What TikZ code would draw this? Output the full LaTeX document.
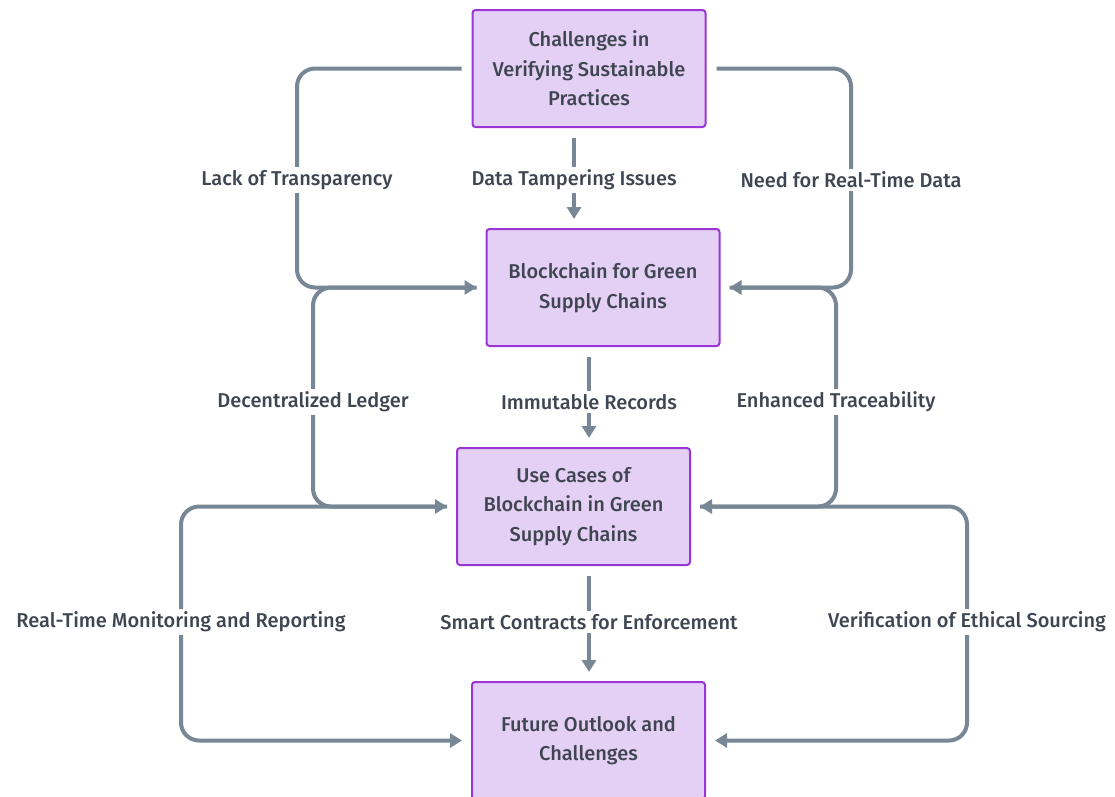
\documentclass[tikz,border=0pt]{standalone}
\usepackage{fontspec}
\setmainfont{Fira Sans Medium}
\usetikzlibrary{arrows.meta}
\definecolor{boxfill}{HTML}{E4D0F4}
\definecolor{boxline}{HTML}{9A35D6}
\definecolor{txt}{HTML}{3F4652}
\definecolor{edgec}{HTML}{788796}
\tikzset{
  box/.style={draw=boxline, line width=2pt, fill=boxfill, rounded corners=3pt,
    minimum width=233pt, minimum height=117pt, align=center, text=txt,
    font=\fontsize{20}{29.5}\selectfont, inner sep=0pt},
  edge/.style={draw=edgec, line width=4pt, rounded corners=18pt,
    -{Triangle[length=12pt,width=14pt]}},
  lbl/.style={fill=white, text=txt, font=\fontsize{20}{22}\selectfont, inner sep=3pt}
}
\begin{document}
\begin{tikzpicture}[x=1pt,y=-1pt]
\useasboundingbox[fill=white] (0,0) rectangle (1115,796);
\node[box] (A) at (589,68.5) {Challenges in\\Verifying Sustainable\\Practices};
\node[box] (B) at (603,287.5) {Blockchain for Green\\Supply Chains};
\node[box] (C) at (573.5,506.5) {Use Cases of\\Blockchain in Green\\Supply Chains};
\node[box] (D) at (588.5,740.5) {Future Outlook and\\Challenges};
\coordinate (a1) at (297,180);
\coordinate (a3) at (851,180);
\coordinate (b1) at (313,402);
\coordinate (b3) at (836,402);
\coordinate (c1) at (181,622);
\coordinate (c3) at (967,622);
% A -> B
\draw[edge, shorten <=10pt, shorten >=9pt] (A.west) -| (a1) |- (B.west);
\node[lbl] at (a1) {Lack of Transparency};
\draw[edge, shorten <=10pt, shorten >=9pt] (A.south -| 574,0) -- (B.north -| 574,0);
\node[lbl] at (574,180) {Data Tampering Issues};
\draw[edge, shorten <=10pt, shorten >=9pt] (A.east) -| (a3) |- (B.east);
\node[lbl] at (a3) {Need for Real-Time Data};
% B -> C
\draw[edge, shorten <=9pt, shorten >=9pt] (B.west) -| (b1) |- (C.west);
\node[lbl] at (b1) {Decentralized Ledger};
\draw[edge, shorten <=10pt, shorten >=9pt] (B.south -| 589,0) -- (C.north -| 589,0);
\node[lbl] at (589,402) {Immutable Records};
\draw[edge, shorten <=9pt, shorten >=9pt] (B.east) -| (b3) |- (C.east);
\node[lbl] at (b3) {Enhanced Traceability};
% C -> D
\draw[edge, shorten <=9pt, shorten >=9pt] (C.west) -| (c1) |- (D.west);
\node[lbl] at (c1) {Real-Time Monitoring and Reporting};
\draw[edge, shorten <=10pt, shorten >=9pt] (C.south -| 589,0) -- (D.north -| 589,0);
\node[lbl] at (589,622) {Smart Contracts for Enforcement};
\draw[edge, shorten <=9pt, shorten >=9pt] (C.east) -| (c3) |- (D.east);
\node[lbl] at (c3) {Verification of Ethical Sourcing};
\end{tikzpicture}
\end{document}
